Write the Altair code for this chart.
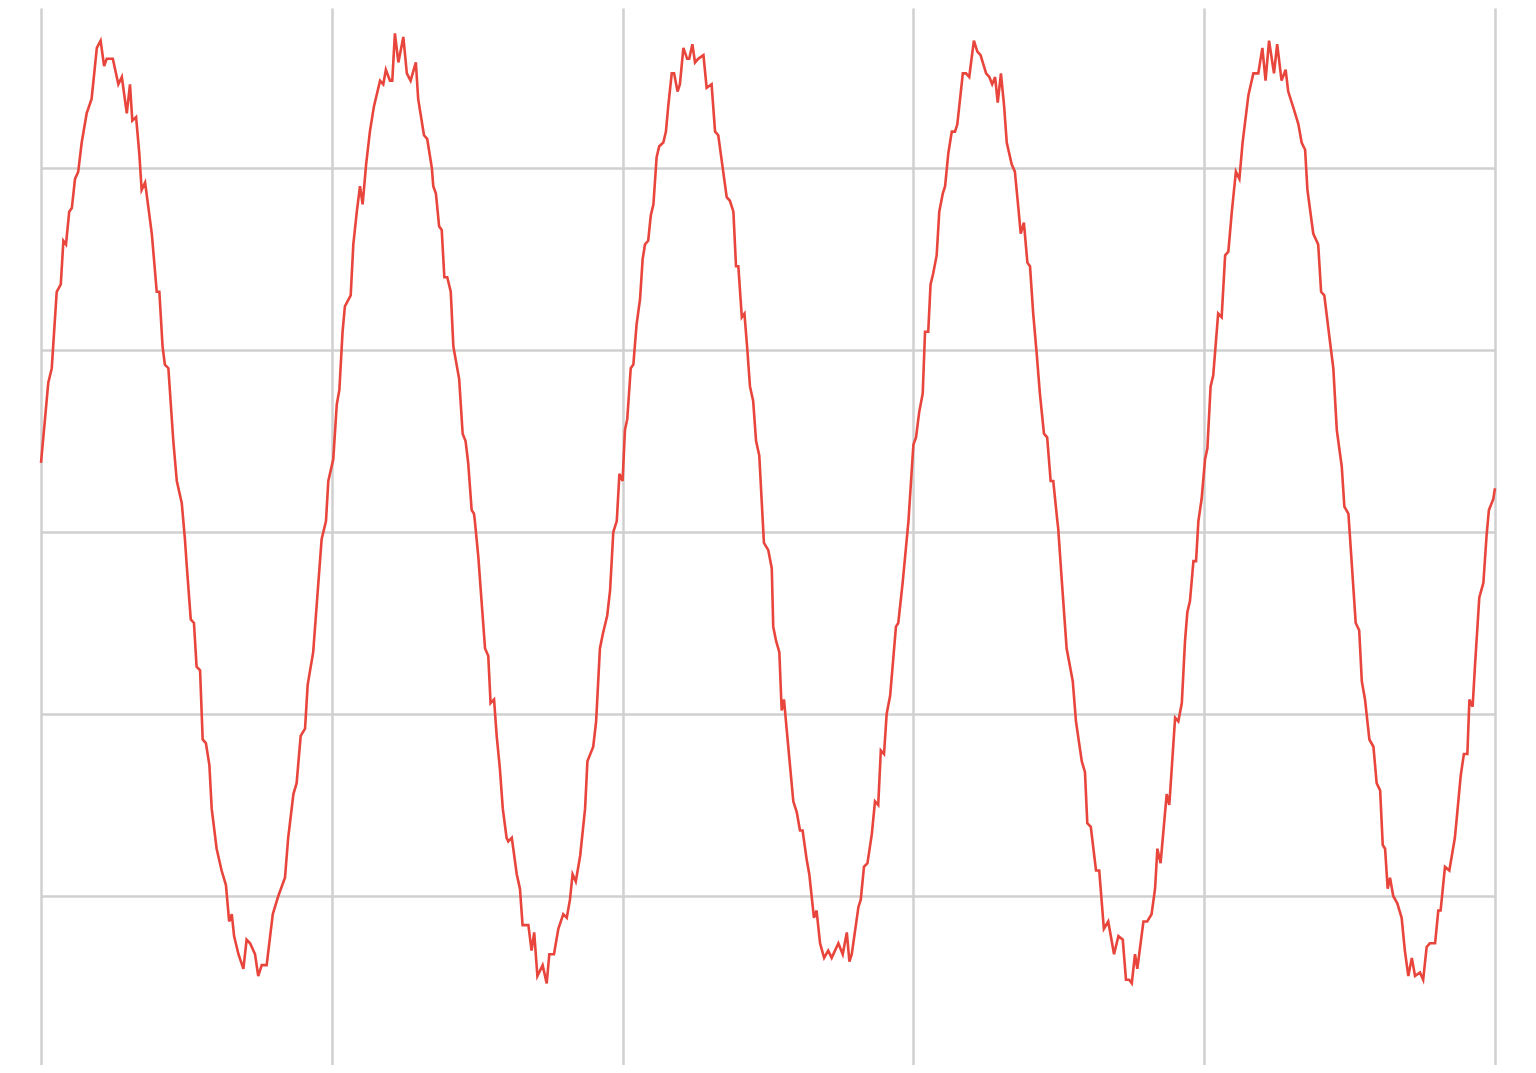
import altair as alt
import pandas as pd

# Time (samples) and signal values, one list per cycle
t_cycle1 = [0, 2.5, 3.7, 5.4, 6.8, 7.7, 8.6, 9.7, 10.6, 11.7, 12.8, 14.0, 15.7, 17.4, 19.2, 20.5, 21.7, 22.6, 24.7, 26.6,
            27.8, 29.5, 30.6, 31.4, 32.7, 33.8, 34.6, 35.8, 38.1, 39.8, 40.7, 41.8, 42.6, 43.8, 45.5, 46.7, 48.4, 49.5, 50.1,
            51.5, 52.6, 53.5, 54.7, 55.6, 56.7, 57.9, 58.7, 60.4, 62.1, 63.6, 64.7, 65.6, 66.4, 67.9, 69.6, 70.7, 71.9, 73.6,
            74.7, 75.9, 77.6, 79.7, 81.6, 83.9, 85.0, 86.8, 87.9, 89.3, 90.8, 91.7, 93.6, 95.0, 96.5, 98.0]
v_cycle1 = [0.19, 0.41, 0.45, 0.66, 0.68, 0.80, 0.79, 0.88, 0.89, 0.97, 0.99, 1.07, 1.15, 1.19, 1.33, 1.35, 1.28, 1.30, 1.30,
            1.23, 1.25, 1.15, 1.23, 1.13, 1.14, 1.04, 0.94, 0.96, 0.82, 0.66, 0.66, 0.51, 0.46, 0.45, 0.25, 0.14, 0.08, -0.02,
            -0.09, -0.24, -0.25, -0.37, -0.38, -0.57, -0.58, -0.64, -0.76, -0.87, -0.93, -0.97, -1.07, -1.05, -1.11, -1.16,
            -1.20, -1.12, -1.13, -1.16, -1.22, -1.19, -1.19, -1.05, -1.00, -0.95, -0.84, -0.72, -0.69, -0.56, -0.54, -0.42,
            -0.33, -0.18, -0.02, 0.03]

t_cycle2 = [98.8, 100.5, 101.7, 102.6, 103.7, 104.5, 106.5, 107.4, 108.6, 109.7, 110.6, 111.8, 113.1, 114.5, 116.6, 117.7,
            118.6, 120.0, 120.8, 121.7, 122.9, 124.6, 125.8, 127.1, 128.9, 129.7, 131.7, 132.8, 134.4, 134.9, 135.8, 136.9,
            137.8, 138.7, 139.7, 140.9, 141.8, 143.8, 145.0, 146.0, 146.9, 148.1, 148.9, 149.2, 150.4, 151.5, 152.7, 153.8,
            154.6, 155.8, 156.7, 157.8, 158.8, 160.1, 160.7, 161.9, 163.6, 164.7, 165.6, 167.6, 168.7, 169.6, 170.7, 172.5,
            173.9, 174.8, 176.4, 177.9, 179.6, 180.8, 181.9, 182.8, 183.9, 185.4, 187.1, 187.9, 189.9, 190.9, 192.2, 193.2,
            194.7, 195.7, 196.8]
v_cycle2 = [0.14, 0.20, 0.35, 0.39, 0.55, 0.62, 0.65, 0.79, 0.88, 0.95, 0.90, 1.01, 1.10, 1.17, 1.24, 1.23, 1.27, 1.24, 1.24,
            1.37, 1.29, 1.36, 1.26, 1.24, 1.29, 1.19, 1.09, 1.08, 1.00, 0.95, 0.93, 0.84, 0.83, 0.70, 0.70, 0.66, 0.51, 0.42,
            0.27, 0.25, 0.19, 0.06, 0.05, 0.03, -0.07, -0.19, -0.32, -0.34, -0.47, -0.46, -0.56, -0.65, -0.76, -0.84, -0.85,
            -0.84, -0.94, -0.98, -1.08, -1.08, -1.15, -1.10, -1.22, -1.19, -1.24, -1.16, -1.16, -1.09, -1.05, -1.06, -1.01,
            -0.94, -0.96, -0.89, -0.76, -0.63, -0.59, -0.52, -0.32, -0.28, -0.23, -0.16, 0.00]

t_cycle3 = [198.0, 198.9, 200.0, 200.8, 201.6, 202.8, 203.7, 204.8, 206.0, 206.9, 207.7, 208.8, 209.7, 210.6, 211.7, 212.6,
            214.0, 214.9, 215.7, 216.9, 217.7, 218.9, 219.7, 220.9, 222.2, 222.9, 224.0, 224.9, 226.0, 227.8, 228.9, 230.6,
            231.8, 232.9, 234.6, 235.8, 236.9, 238.1, 239.0, 239.8, 241.0, 241.9, 242.9, 243.8, 244.9, 245.9, 247.0, 248.2,
            248.6, 250.1, 251.3, 251.8, 252.8, 253.9, 254.7, 255.5, 256.4, 258.7, 259.9, 261.0, 261.9, 263.3, 264.2, 265.8,
            266.7, 267.9, 269.3, 270.7, 271.9, 274.2, 275.7, 277.1, 278.0, 278.8, 281.1, 281.9, 283.0, 284.2, 285.7, 286.8,
            287.9, 288.8, 289.9, 290.8, 292.0, 294.0, 294.8, 296.3, 298.3]
v_cycle3 = [0.03, 0.16, 0.14, 0.28, 0.31, 0.45, 0.46, 0.57, 0.64, 0.75, 0.79, 0.80, 0.87, 0.90, 1.03, 1.06, 1.07, 1.10, 1.17,
            1.26, 1.26, 1.21, 1.23, 1.33, 1.30, 1.30, 1.34, 1.29, 1.30, 1.31, 1.22, 1.23, 1.10, 1.09, 0.99, 0.92, 0.91, 0.88,
            0.73, 0.73, 0.59, 0.60, 0.50, 0.40, 0.36, 0.25, 0.21, 0.03, -0.03, -0.05, -0.10, -0.26, -0.30, -0.33, -0.49,
            -0.46, -0.54, -0.74, -0.77, -0.82, -0.82, -0.90, -0.94, -1.06, -1.04, -1.13, -1.17, -1.15, -1.17, -1.13, -1.16,
            -1.10, -1.18, -1.16, -1.03, -1.01, -0.92, -0.91, -0.83, -0.74, -0.75, -0.60, -0.61, -0.50, -0.45, -0.26, -0.25,
            -0.14, 0.03]

t_cycle4 = [300.0, 300.9, 302.0, 303.2, 304.0, 305.1, 305.9, 306.8, 308.0, 308.9, 310.1, 310.9, 312.0, 313.2, 314.3, 315.1,
            317.0, 318.1, 319.2, 320.8, 322.0, 323.1, 325.0, 326.1, 327.1, 328.1, 329.0, 330.1, 331.2, 332.1, 333.8, 334.9,
            336.1, 336.9, 338.0, 339.2, 340.1, 341.2, 342.4, 343.5, 344.9, 346.0, 347.2, 348.1, 349.5, 349.8, 351.0, 352.7,
            354.8, 355.9, 357.9, 359.0, 359.8, 361.0, 362.8, 363.9, 365.5, 367.0, 369.0, 370.5, 372.0, 373.1, 374.2, 375.1,
            376.2, 377.0, 379.1, 380.4, 381.9, 383.1, 383.9, 385.0, 387.1, 388.0, 390.0, 391.1, 392.3, 393.4, 394.2, 395.1,
            396.3, 397.2]
v_cycle4 = [0.24, 0.26, 0.33, 0.38, 0.55, 0.55, 0.68, 0.71, 0.76, 0.88, 0.93, 0.95, 1.04, 1.10, 1.10, 1.12, 1.26, 1.26, 1.25,
            1.35, 1.32, 1.31, 1.26, 1.25, 1.23, 1.25, 1.18, 1.26, 1.17, 1.07, 1.01, 0.99, 0.89, 0.82, 0.85, 0.74, 0.73, 0.60,
            0.49, 0.38, 0.27, 0.26, 0.14, 0.14, 0.03, 0.01, -0.13, -0.32, -0.41, -0.52, -0.63, -0.66, -0.80, -0.81, -0.93,
            -0.93, -1.09, -1.07, -1.16, -1.11, -1.12, -1.23, -1.23, -1.24, -1.16, -1.20, -1.07, -1.07, -1.05, -0.98, -0.87,
            -0.91, -0.72, -0.75, -0.51, -0.52, -0.47, -0.30, -0.22, -0.19, -0.08, -0.08]

t_cycle5 = [398.0, 399.1, 400.3, 401.1, 402.2, 403.1, 404.8, 406.0, 407.2, 408.3, 409.5, 410.9, 412.1, 413.2, 415.2, 416.9,
            418.6, 420.0, 421.1, 422.3, 424.0, 425.1, 426.6, 428.0, 428.9, 430.9, 432.4, 433.5, 434.7, 435.5, 437.5, 439.2,
            440.2, 441.3, 443.3, 444.4, 445.6, 447.3, 448.2, 449.6, 450.1, 452.1, 453.3, 454.2, 455.3, 456.8, 458.2, 459.3,
            460.5, 461.4, 462.2, 463.1, 463.9, 465.0, 466.4, 467.9, 469.0, 470.2, 471.4, 472.5, 474.2, 475.3, 476.5, 477.6,
            479.4, 480.5, 481.3, 482.8, 484.3, 486.2, 486.8, 488.2, 489.3, 490.5, 491.2, 492.3, 493.1, 494.6, 496.0, 497.1,
            497.9, 499.4, 500.0]
v_cycle5 = [0.03, 0.09, 0.20, 0.23, 0.40, 0.43, 0.60, 0.59, 0.76, 0.77, 0.88, 0.99, 0.97, 1.07, 1.20, 1.26, 1.26, 1.33, 1.24,
            1.35, 1.26, 1.34, 1.24, 1.27, 1.21, 1.16, 1.12, 1.07, 1.05, 0.94, 0.82, 0.79, 0.66, 0.65, 0.52, 0.45, 0.28, 0.18,
            0.07, 0.05, -0.01, -0.25, -0.27, -0.41, -0.46, -0.57, -0.59, -0.69, -0.71, -0.86, -0.87, -0.98, -0.95, -1.00,
            -1.02, -1.06, -1.15, -1.22, -1.17, -1.22, -1.21, -1.23, -1.14, -1.13, -1.13, -1.04, -1.04, -0.92, -0.93, -0.84,
            -0.79, -0.67, -0.61, -0.61, -0.46, -0.48, -0.37, -0.18, -0.14, -0.01, 0.06, 0.09, 0.12]

x_ticks = [0, 100, 200, 300, 400, 500]
y_ticks = [-1.0, -0.5, 0.0, 0.5, 1.0]

t_all = t_cycle1 + t_cycle2 + t_cycle3 + t_cycle4 + t_cycle5
v_all = v_cycle1 + v_cycle2 + v_cycle3 + v_cycle4 + v_cycle5
df = pd.DataFrame({"t": t_all, "v": v_all})

chart = (
    alt.Chart(df)
    .mark_line(color="#e8453c", strokeWidth=2.6)
    .encode(
        x=alt.X(
            "t:Q",
            scale=alt.Scale(domain=[0, 500], nice=False, zero=False),
            axis=alt.Axis(values=x_ticks, labels=False, ticks=False, domain=False, grid=True),
            title=None,
        ),
        y=alt.Y(
            "v:Q",
            scale=alt.Scale(domain=[-1.4643, 1.4396], nice=False, zero=False),
            axis=alt.Axis(values=y_ticks, labels=False, ticks=False, domain=False, grid=True),
            title=None,
        ),
    )
    .properties(
        width=1454,
        height=1057,
        padding={"left": 33, "top": 0, "right": 30, "bottom": 0},
        autosize="none",
        background="white",
    )
    .configure_view(stroke=None)
    .configure_axis(gridColor="#d0d0d0", gridWidth=2.5, gridOpacity=1)
)

chart.save("out.html", embed_options={"renderer": "svg", "actions": False})
